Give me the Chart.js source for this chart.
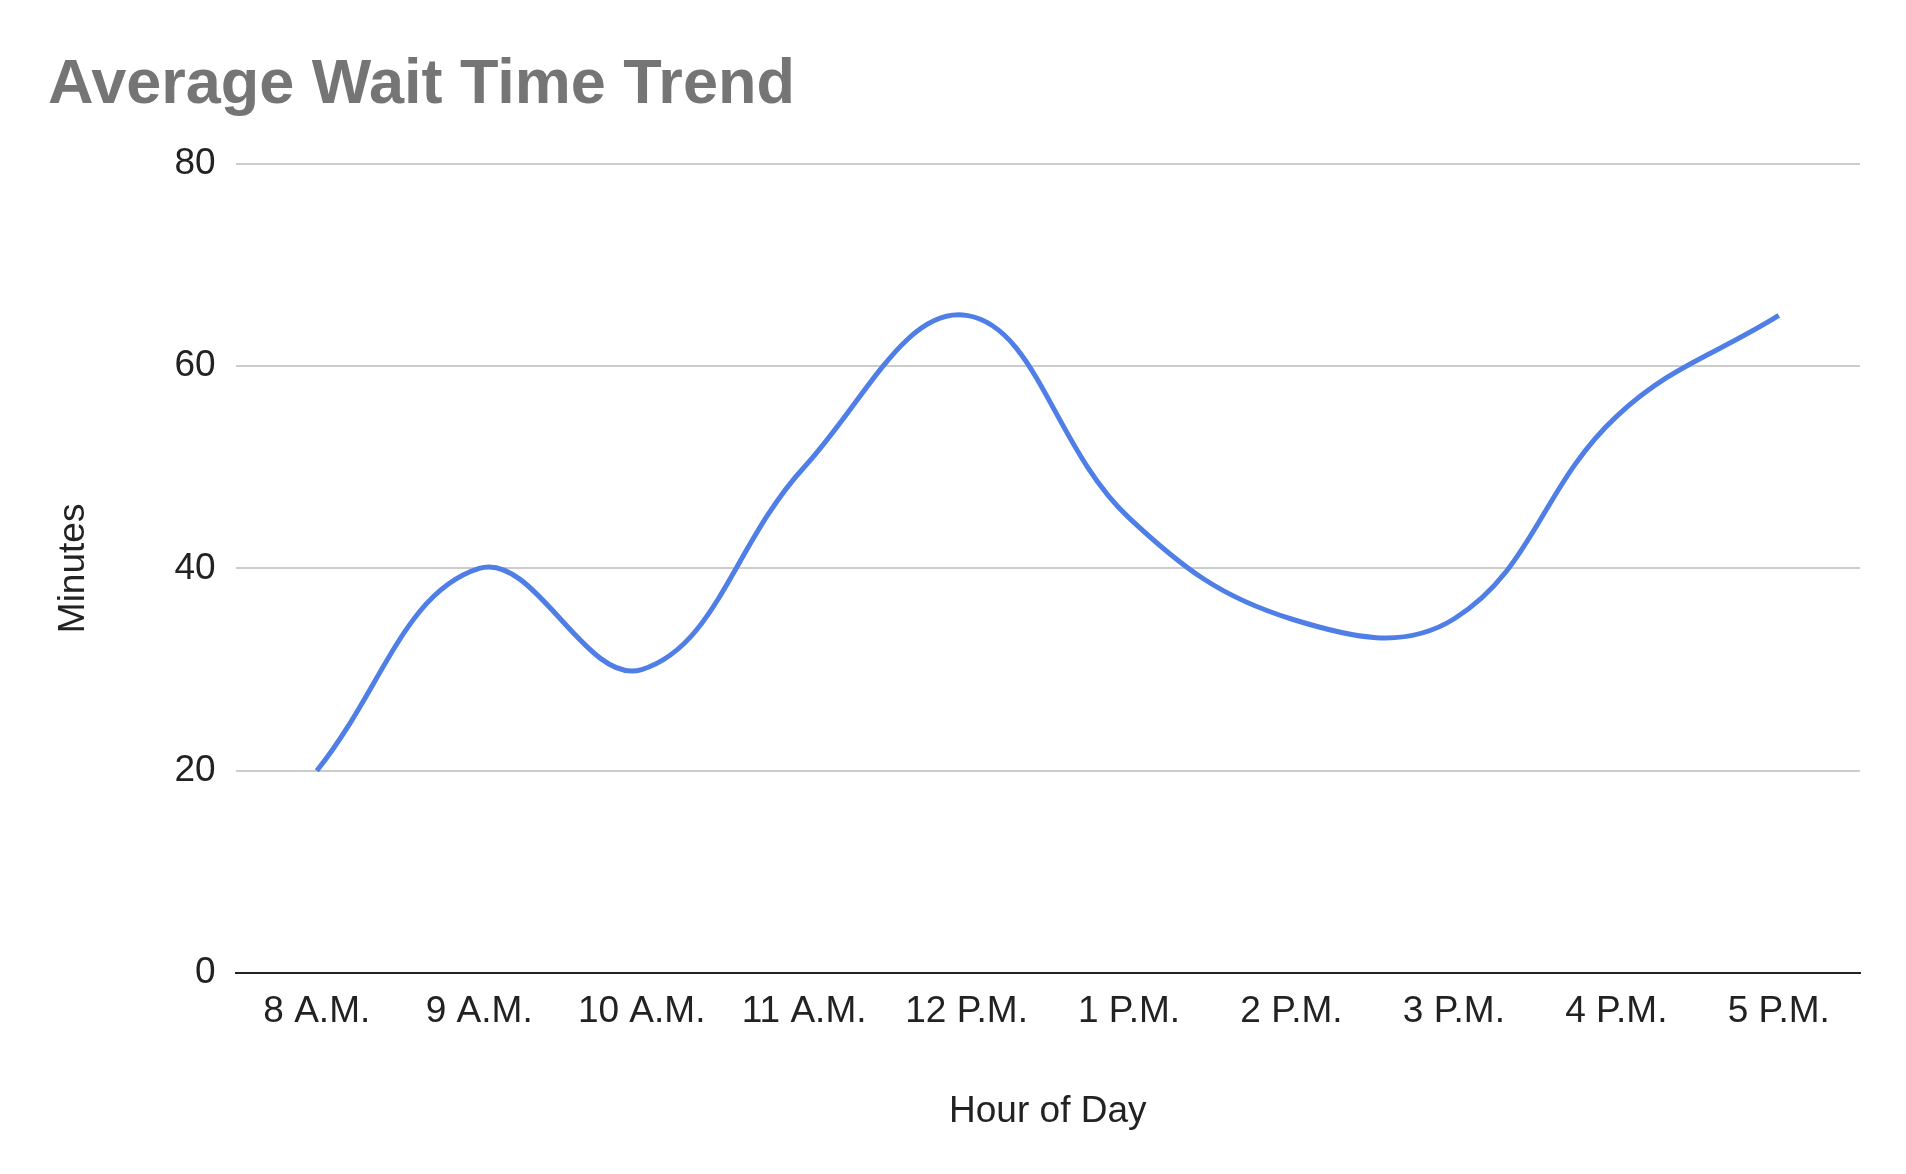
<!DOCTYPE html>
<html><head><meta charset="utf-8">
<script src="https://cdn.jsdelivr.net/npm/chart.js@4"></script>
<style>html,body{margin:0;background:#fff}#w{width:1906px;height:1174px;position:relative}</style>
</head><body><div id="w"><canvas id="c"></canvas></div>
<script>
const categories = ["8 A.M.","9 A.M.","10 A.M.","11 A.M.","12 P.M.","1 P.M.","2 P.M.","3 P.M.","4 P.M.","5 P.M."];
const minutes = [20,40,30,50,65,45,35,35,55,65];
const yTicks = [0,20,40,60,80];
const F = "Arial, 'Liberation Sans', sans-serif";
new Chart(document.getElementById('c'), {
  type: 'line',
  data: { labels: categories, datasets: [{ data: minutes, borderColor: '#4f7fe6', borderWidth: 5, tension: 0.4, pointRadius: 0, fill: false }] },
  options: {
    responsive: true, maintainAspectRatio: false, animation: false,
    layout: { padding: { left: 48, right: 46, top: 20, bottom: 36 } },
    plugins: {
      legend: { display: false },
      title: { display: true, text: 'Average Wait Time Trend', align: 'start', color: '#757575',
        font: { family: F, size: 63, weight: 'bold' }, padding: { top: 28, bottom: 40 } }
    },
    scales: {
      x: { offset: true, grid: { display: false, drawTicks: false }, border: { color: '#222', width: 2 },
        ticks: { color: '#222', font: { family: F, size: 37 }, padding: 16, maxRotation: 0 },
        title: { display: true, text: 'Hour of Day', color: '#222', font: { family: F, size: 37 }, padding: { top: 40 } } },
      y: { min: 0, max: 80, afterBuildTicks: a => { a.ticks = yTicks.map(v => ({ value: v })); },
        grid: { color: '#cccccc', lineWidth: 2, drawTicks: false }, border: { display: false },
        ticks: { color: '#222', font: { family: F, size: 37 }, padding: 20 },
        title: { display: true, text: 'Minutes', color: '#222', font: { family: F, size: 37 }, padding: { bottom: 58 } } }
    }
  }
});
</script></body></html>
